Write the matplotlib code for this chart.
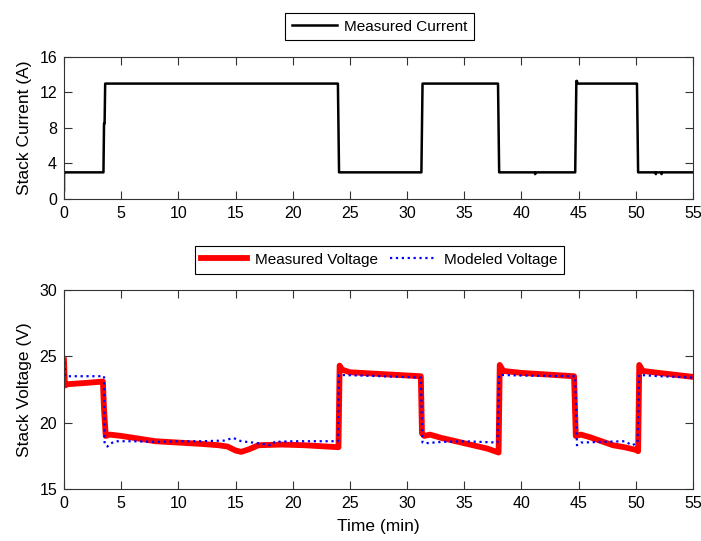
import matplotlib
matplotlib.use("Agg")
import matplotlib.pyplot as plt

plt.rcParams['font.family'] = ['Liberation Sans', 'DejaVu Sans']

# stack current, step profile (min, A)
cur_t = [0.0, 0.0, 0.1, 3.45, 3.5, 3.55, 3.6, 23.95, 24.05, 31.25, 31.35, 37.95, 38.05,
         41.15, 41.2, 41.25, 44.7, 44.8, 44.85, 44.9, 50.1, 50.2, 51.7, 51.75, 51.8,
         52.2, 52.25, 52.3, 55.0]
cur_i = [1.0, 3.0, 3.0, 3.0, 8.5, 8.5, 13.0, 13.0, 3.0, 3.0, 13.0, 13.0, 3.0,
         3.0, 2.8, 3.0, 3.0, 13.3, 13.3, 13.0, 13.0, 3.0, 3.0, 2.8, 3.0,
         3.0, 2.8, 3.0, 3.0]

# measured stack voltage (min, V)
vm_t = [0.0, 0.08, 0.3, 2.0, 3.4, 3.5, 3.65, 4.0, 5.0, 6.5, 8.0, 10.0, 12.0, 13.5, 14.3,
        15.0, 15.5, 16.2, 17.0, 19.0, 21.0, 23.0, 24.0, 24.1, 24.3, 25.0, 28.0, 31.2,
        31.3, 31.5, 32.0, 33.0, 35.0, 37.0, 38.0, 38.1, 38.4, 40.0, 44.6, 44.75, 45.2,
        46.0, 47.0, 48.0, 49.0, 50.0, 50.2, 50.3, 50.6, 52.0, 55.0]
vm_v = [24.7, 22.8, 22.9, 23.0, 23.1, 21.0, 19.0, 19.1, 19.0, 18.8, 18.6, 18.5, 18.4, 18.3, 18.2,
        17.9, 17.8, 18.0, 18.3, 18.35, 18.3, 18.2, 18.15, 24.3, 24.0, 23.8, 23.65, 23.5,
        19.2, 19.0, 19.1, 18.85, 18.45, 18.05, 17.75, 24.35, 23.9, 23.75, 23.5, 19.0, 19.1,
        18.9, 18.6, 18.3, 18.15, 17.95, 17.85, 24.35, 23.9, 23.75, 23.45]

# modeled stack voltage (min, V)
vmod_t = [0.0, 0.1, 3.5, 3.55, 3.8, 4.0, 4.5, 6.0, 8.0, 10.0, 12.0, 14.0, 14.8, 15.5, 16.5,
          18.2, 18.4, 20.0, 22.0, 23.95, 24.05, 26.0, 31.2, 31.35, 31.6, 33.0, 35.0, 37.9,
          38.05, 40.0, 44.7, 44.85, 45.2, 47.0, 49.0, 49.7, 50.15, 50.3, 52.0, 55.0]
vmod_v = [25.0, 23.5, 23.5, 18.4, 18.2, 18.4, 18.6, 18.6, 18.55, 18.6, 18.6, 18.65, 18.85, 18.6, 18.5,
          18.3, 18.55, 18.6, 18.6, 18.6, 23.6, 23.55, 23.4, 18.5, 18.45, 18.55, 18.6, 18.5,
          23.6, 23.55, 23.5, 18.3, 18.5, 18.55, 18.6, 18.3, 18.5, 23.6, 23.5, 23.4]

fig = plt.figure(figsize=(7.01, 5.41), dpi=100)
ax1 = fig.add_axes([0.0913, 0.6322, 0.8973, 0.2625])
ax2 = fig.add_axes([0.0913, 0.0961, 0.8973, 0.3679])

fs_lab = 12.5
fs_tick = 11.5
fs_leg = 11

ax1.plot(cur_t, cur_i, color='black', lw=1.8, label='Measured Current')
ax1.set_xlim(0, 55)
ax1.set_ylim(0, 16)
ax1.set_xticks(range(0, 56, 5))
ax1.set_yticks([0, 4, 8, 12, 16])
ax1.set_ylabel('Stack Current (A)', fontsize=fs_lab, labelpad=5)

ax2.plot(vm_t, vm_v, color='red', lw=4.2, label='Measured Voltage')
ax2.plot(vmod_t, vmod_v, color='blue', lw=1.6, ls=':', label='Modeled Voltage')
ax2.set_xlim(0, 55)
ax2.set_ylim(15, 30)
ax2.set_xticks(range(0, 56, 5))
ax2.set_yticks([15, 20, 25, 30])
ax2.set_ylabel('Stack Voltage (V)', fontsize=fs_lab, labelpad=5)
ax2.set_xlabel('Time (min)', fontsize=fs_lab, labelpad=6)

for ax in (ax1, ax2):
    ax.tick_params(direction='in', top=True, right=True, length=6, width=0.8,
                   labelsize=fs_tick, pad=5, color='#333333')
    for s in ax.spines.values():
        s.set_color('#333333')
        s.set_linewidth(0.8)

leg1 = fig.legend(*ax1.get_legend_handles_labels(), loc='center',
                  bbox_to_anchor=(0.542, 0.951), fontsize=fs_leg, fancybox=False,
                  edgecolor='black', framealpha=1, handlelength=2.9,
                  borderpad=0.45, handletextpad=0.5)
leg2 = fig.legend(*ax2.get_legend_handles_labels(), loc='center', ncol=2,
                  bbox_to_anchor=(0.541, 0.520), fontsize=fs_leg, fancybox=False,
                  edgecolor='black', framealpha=1, handlelength=3.0,
                  borderpad=0.45, handletextpad=0.5, columnspacing=0.8)
for leg in (leg1, leg2):
    leg.get_frame().set_linewidth(0.8)

fig.savefig('out.png', dpi=100)
